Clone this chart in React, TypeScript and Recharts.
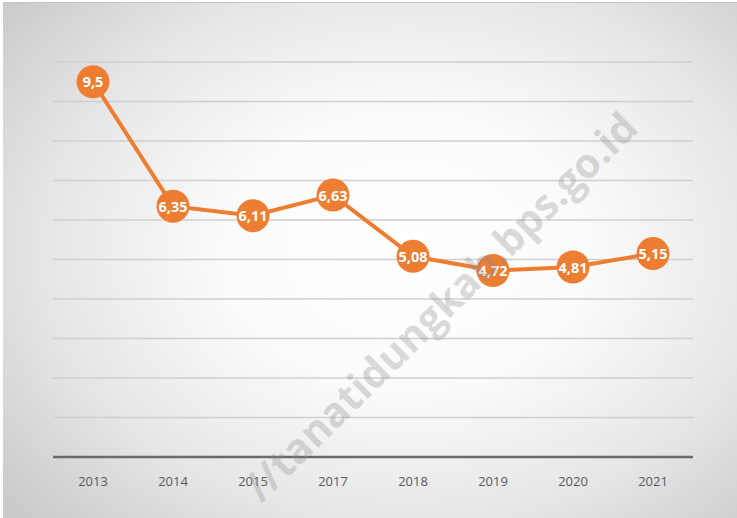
import React from 'react';
import { LineChart, Line, XAxis, YAxis, CartesianGrid } from 'recharts';

const years = ['2013', '2014', '2015', '2017', '2018', '2019', '2020', '2021'];
const values = [9.5, 6.35, 6.11, 6.63, 5.08, 4.72, 4.81, 5.15];
const yTicks = [0, 1, 2, 3, 4, 5, 6, 7, 8, 9, 10];

const data = years.map((y, i) => ({ year: y, value: values[i] }));

const ORANGE = '#ED7D31';

const fmt = (v: number) => String(v).replace('.', ',');

const Dot = (props: any) => {
  const { cx, cy, value, index } = props;
  if (cx == null || cy == null) return null;
  return (
    <g key={`dot-${index}`}>
      <circle cx={cx} cy={cy} r={16.5} fill={ORANGE} />
      <text
        x={cx}
        y={cy}
        textAnchor="middle"
        dominantBaseline="central"
        fill="#ffffff"
        fontFamily="'Open Sans', sans-serif"
        fontWeight={700}
        fontSize={14.5}
      >
        {fmt(value)}
      </text>
    </g>
  );
};

export default function App() {
  return (
    <div
      style={{
        position: 'absolute',
        left: 0,
        top: 0,
        width: 737,
        height: 518,
        background: '#ffffff',
        overflow: 'hidden',
      }}
    >
      <div
        style={{
          position: 'absolute',
          left: 3,
          top: 2,
          width: 734,
          height: 516,
          borderTop: '1px solid #c4c4c4',
          background:
            'radial-gradient(ellipse 70% 75% at 55% 48%, #ffffff 0%, #fbfbfb 35%, #e6e6e6 70%, #cbcbcb 100%)',
        }}
      />
      <div style={{ position: 'absolute', left: 0, top: 0 }}>
        <LineChart
          width={737}
          height={518}
          data={data}
          margin={{ top: 62, right: 44, bottom: 31, left: 53 }}
        >
          <CartesianGrid horizontal vertical={false} stroke="#cfcfcf" strokeWidth={1.3} />
          <YAxis hide width={0} domain={[0, 10]} ticks={yTicks} />
          <XAxis
            dataKey="year"
            height={30}
            padding={{ left: 40, right: 40 }}
            axisLine={{ stroke: '#6a6a6a', strokeWidth: 2.5 }}
            tickLine={false}
            tickMargin={14}
            tick={{ fill: '#595959', fontSize: 13, fontFamily: "'Open Sans', sans-serif" }}
          />
          <Line
            type="linear"
            dataKey="value"
            stroke={ORANGE}
            strokeWidth={4}
            dot={<Dot />}
            activeDot={false}
            isAnimationActive={false}
          />
        </LineChart>
      </div>
      <div
        style={{
          position: 'absolute',
          left: 440,
          top: 306,
          transform: 'translate(-50%, -50%) rotate(-44.6deg)',
          whiteSpace: 'nowrap',
          fontFamily: "'Open Sans', sans-serif",
          fontWeight: 700,
          fontSize: 41,
          lineHeight: 1,
          color: 'rgba(140,140,140,0.33)',
          pointerEvents: 'none',
        }}
      >
        //tanatidungkab.bps.go.id
      </div>
    </div>
  );
}
